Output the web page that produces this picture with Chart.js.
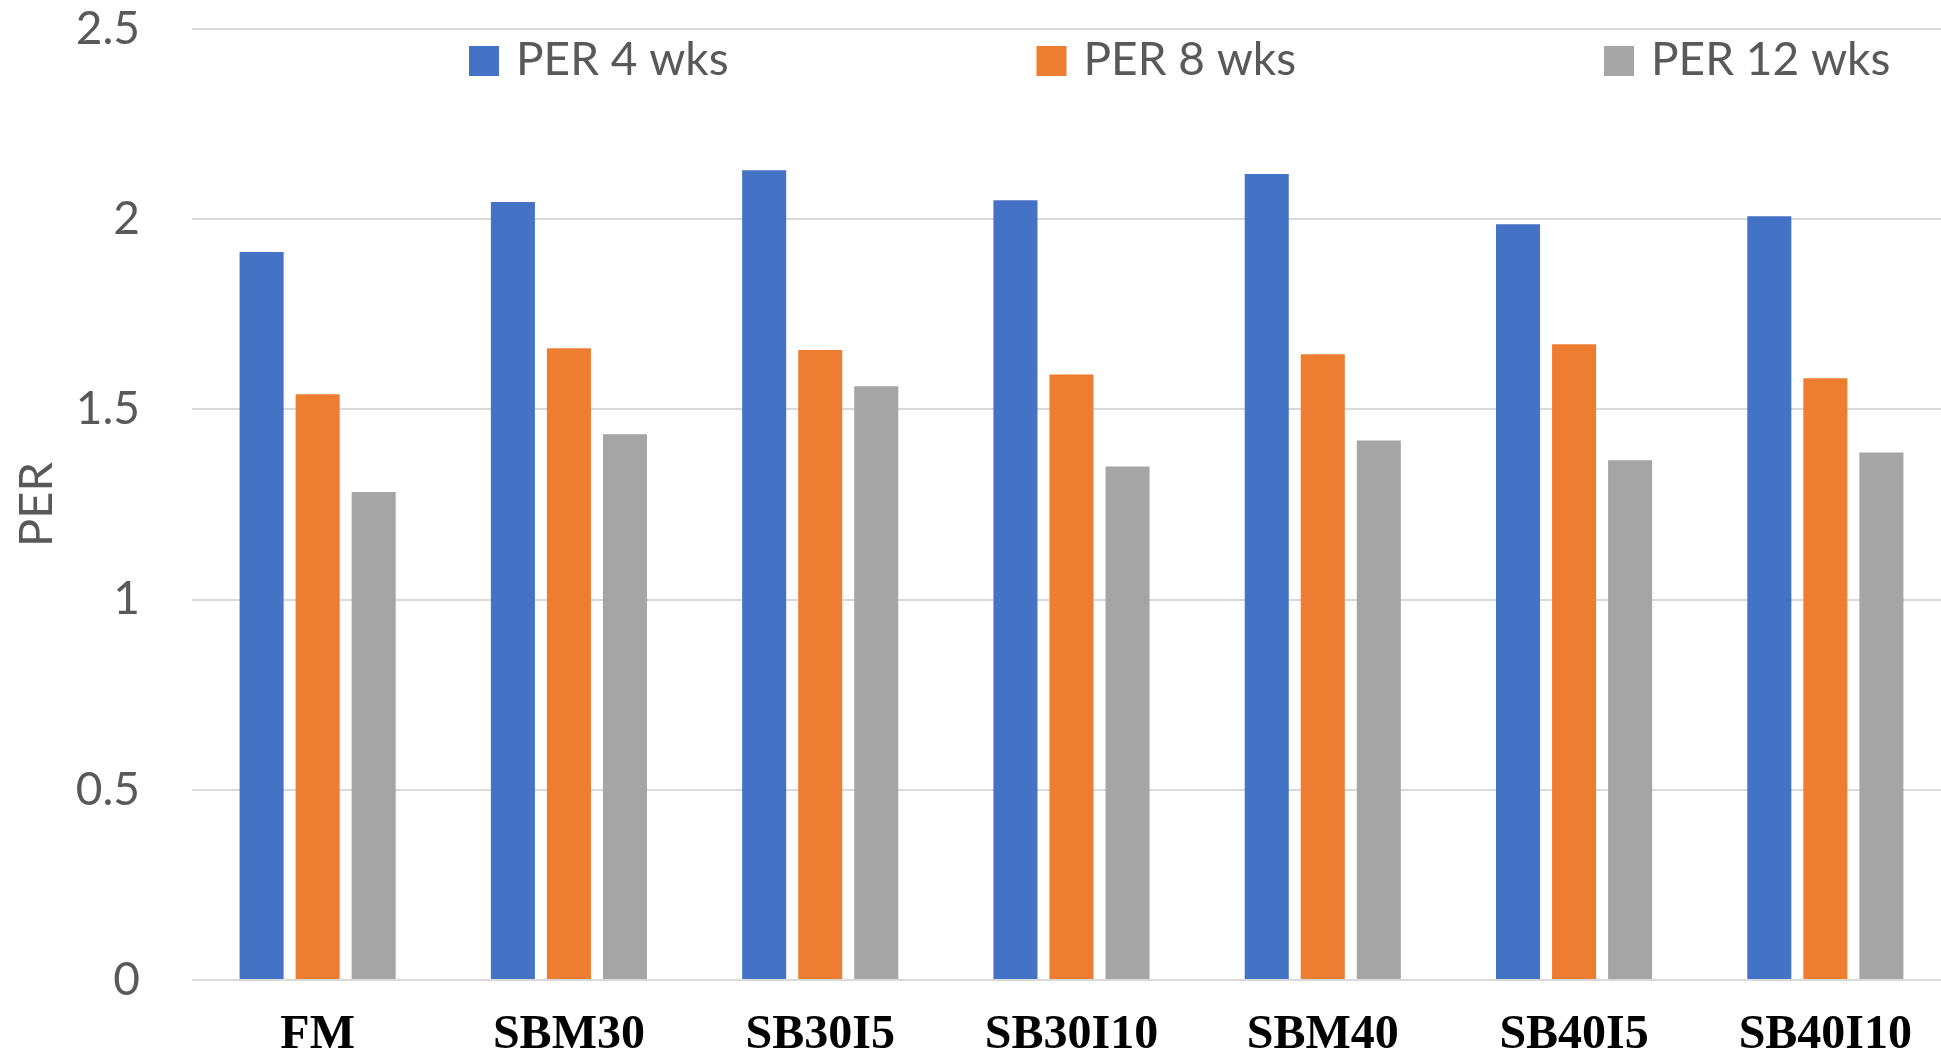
<!DOCTYPE html>
<html>
<head>
<meta charset="utf-8">
<title>PER</title>
<script src="https://cdn.jsdelivr.net/npm/chart.js@4/dist/chart.umd.min.js"></script>
<style>
  html, body { margin: 0; padding: 0; background: #ffffff; overflow: hidden; }
  #wrap { width: 1951px; height: 1052px; }
</style>
</head>
<body>
<div id="wrap"><canvas id="chart" width="1951" height="1052"></canvas></div>
<script>
// Diets
const categories = ['FM', 'SBM30', 'SB30I5', 'SB30I10', 'SBM40', 'SB40I5', 'SB40I10'];

// Protein efficiency ratio at each sampling time
const per4wks  = [1.914, 2.045, 2.129, 2.050, 2.119, 1.987, 2.008];
const per8wks  = [1.540, 1.661, 1.656, 1.592, 1.645, 1.671, 1.582];
const per12wks = [1.283, 1.435, 1.561, 1.350, 1.418, 1.366, 1.387];

const seriesLabels = ['PER 4 wks', 'PER 8 wks', 'PER 12 wks'];
const seriesColors = ['#4472C4', '#ED7D31', '#A5A5A5'];

const yTicks = { min: 0, max: 2.5, step: 0.5 };
const yTitle = 'PER';

const GREY_TEXT = '#595959';

// Legend drawn as evenly spaced entries inside the plot area
const insideLegend = {
  id: 'insideLegend',
  afterDraw(chart) {
    const ctx = chart.ctx;
    const area = chart.chartArea;
    const startX = area.left + 277;
    const step = 567.5;
    const boxTop = 46, box = 30;
    ctx.save();
    ctx.font = '46px Lato';
    ctx.textBaseline = 'alphabetic';
    ctx.textAlign = 'left';
    chart.data.datasets.forEach((ds, i) => {
      const x = startX + i * step;
      ctx.fillStyle = ds.backgroundColor;
      ctx.fillRect(x, boxTop, box, box);
      ctx.fillStyle = GREY_TEXT;
      ctx.fillText(ds.label, x + 47, 75);
    });
    ctx.restore();
  }
};

const datasets = [per4wks, per8wks, per12wks].map((values, i) => ({
  label: seriesLabels[i],
  data: values,
  backgroundColor: seriesColors[i],
  borderWidth: 0,
  categoryPercentage: 0.669,
  barPercentage: 0.786
}));

new Chart(document.getElementById('chart'), {
  type: 'bar',
  data: { labels: categories, datasets },
  plugins: [insideLegend],
  options: {
    responsive: false,
    animation: false,
    layout: { padding: { top: 29, left: 0, right: 0, bottom: 0 } },
    plugins: {
      legend: { display: false },
      tooltip: { enabled: false }
    },
    scales: {
      x: {
        grid: { display: false },
        border: { display: false },
        ticks: {
          color: '#000000',
          padding: 19,
          font: { family: '"Liberation Serif", "Times New Roman", serif', size: 48, weight: 'bold', lineHeight: 1.2 }
        },
        afterFit(scale) {
          scale.height = 72;
          scale.paddingLeft = 0;
          scale.paddingRight = 0;
        }
      },
      y: {
        min: yTicks.min,
        max: yTicks.max,
        grid: { color: '#D9D9D9', lineWidth: 2, drawTicks: false },
        border: { display: false },
        ticks: {
          stepSize: yTicks.step,
          color: GREY_TEXT,
          padding: 52,
          font: { family: 'Lato', size: 46, lineHeight: 1.2 },
          callback: (value) => String(Number(value.toFixed(1)))
        },
        title: {
          display: true,
          text: yTitle,
          color: GREY_TEXT,
          padding: { top: 9, bottom: 0 },
          font: { family: 'Lato', size: 47, lineHeight: 1.2 }
        },
        afterFit(scale) {
          scale.width = 192;
          scale.paddingTop = 0;
          scale.paddingBottom = 0;
        }
      }
    }
  }
});
</script>
</body>
</html>
